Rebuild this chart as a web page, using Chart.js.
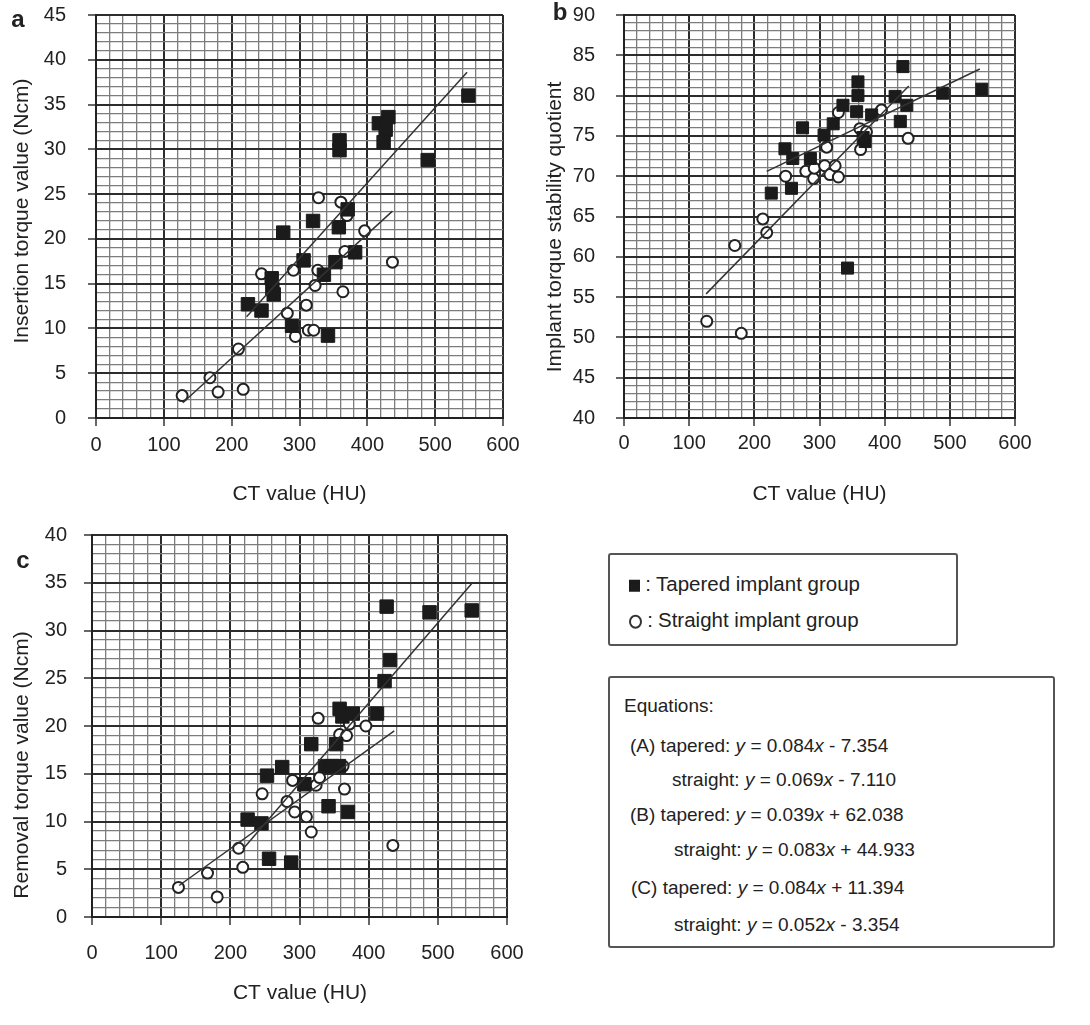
<!DOCTYPE html>
<html>
<head>
<meta charset="utf-8">
<script src="https://cdn.jsdelivr.net/npm/chart.js@4.4.0/dist/chart.umd.min.js"></script>
<style>
  body { margin: 0; background: #fff; font-family: 'Liberation Sans', Arial, sans-serif; color: #222; }
  #page { position: relative; width: 1090px; height: 1025px; overflow: hidden; }
  .panel { position: absolute; }
  .box { position: absolute; border: 2px solid #555; border-radius: 3px; box-sizing: border-box; }
  .row { position: absolute; white-space: nowrap; line-height: 1; transform: translateY(-50%); }
  .sq { display: inline-block; width: 11px; height: 12px; background: #1b1b1b; vertical-align: middle; }
  .ci { display: inline-block; width: 9px; height: 10px; border: 2px solid #333; border-radius: 50%; vertical-align: middle; }
  .colon { display: inline-block; width: 16px; text-align: center; }
</style>
</head>
<body>
<div id="page">
  <div class="panel" style="left:0;top:0;width:530px;height:510px"><canvas id="chartA"></canvas></div>
  <div class="panel" style="left:520px;top:0;width:570px;height:510px"><canvas id="chartB"></canvas></div>
  <div class="panel" style="left:0;top:510px;width:530px;height:515px"><canvas id="chartC"></canvas></div>

  <div class="box" style="left:608px;top:553px;width:350px;height:93px;font-size:20.5px">
    <div class="row" style="left:19px;top:29px"><span class="sq"></span><span class="colon">:</span>Tapered implant group</div>
    <div class="row" style="left:19px;top:65px"><span class="ci"></span><span class="colon">:</span>Straight implant group</div>
  </div>

  <div class="box" style="left:608px;top:676px;width:447px;height:272px;font-size:19px">
    <div class="row" style="left:14px;top:27px">Equations:</div>
    <div class="row" style="left:20px;top:67px">(A) tapered: <i>y</i> = 0.084<i>x</i> - 7.354</div>
    <div class="row" style="left:62px;top:101px">straight: <i>y</i> = 0.069<i>x</i> - 7.110</div>
    <div class="row" style="left:20px;top:136px">(B) tapered: <i>y</i> = 0.039<i>x</i> + 62.038</div>
    <div class="row" style="left:64px;top:171px">straight: <i>y</i> = 0.083<i>x</i> + 44.933</div>
    <div class="row" style="left:21px;top:209px">(C) tapered: <i>y</i> = 0.084<i>x</i> + 11.394</div>
    <div class="row" style="left:64px;top:246px">straight: <i>y</i> = 0.052<i>x</i> - 3.354</div>
  </div>
</div>

<script>
// axis ranges
const ctRange = [0, 600];
const insertionRange = [0, 45];
const isqRange = [40, 90];
const removalRange = [0, 40];

// (a) insertion torque, [CT value, Ncm]
const insertionTapered = [[549,36.0],[489,28.8],[417,32.9],[431,33.6],[427,32.2],[424,30.8],[359,31.0],[359,29.9],
  [371,23.3],[358,21.3],[320,22.0],[276,20.7],[382,18.5],[353,17.4],[306,17.6],[336,16.0],[259,15.6],[260,14.4],
  [262,13.8],[224,12.7],[244,12.0],[289,10.3],[342,9.2]];
const insertionStraight = [[127,2.5],[168,4.5],[180,2.9],[217,3.2],[210,7.7],[244,16.1],[282,11.7],[291,16.5],
  [294,9.1],[310,12.6],[313,9.8],[321,9.8],[323,14.8],[327,16.5],[328,24.6],[361,24.1],[364,14.1],[367,18.6],
  [370,22.6],[396,20.9],[437,17.4]];
const insertionTaperedFit = [[222,11.3],[547,38.6]];
const insertionStraightFit = [[128,1.7],[437,23.1]];

// (b) implant stability quotient
const isqTapered = [[428,83.6],[549,80.8],[489,80.3],[359,81.7],[359,80.0],[416,79.9],[434,78.8],[424,76.8],
  [336,78.8],[357,78.0],[380,77.6],[370,74.3],[367,74.8],[321,76.5],[307,75.1],[274,76.0],[247,73.4],[259,72.2],
  [286,72.2],[257,68.5],[226,67.9],[343,58.6]];
const isqStraight = [[127,52.0],[180,50.5],[170,61.4],[213,64.7],[219,63.0],[248,70.0],[279,70.6],[291,69.7],
  [292,71.0],[311,73.6],[308,71.3],[316,70.2],[324,71.3],[329,69.9],[329,77.9],[362,75.9],[363,73.3],[372,75.5],
  [395,78.2],[436,74.7]];
const isqTaperedFit = [[219,70.6],[546,83.3]];
const isqStraightFit = [[126,55.4],[437,81.2]];

// (c) removal torque
const removalTapered = [[426,32.5],[488,31.9],[549,32.1],[431,26.9],[423,24.7],[412,21.3],[358,21.8],[362,21.0],
  [377,21.3],[353,18.1],[317,18.1],[275,15.7],[253,14.8],[307,13.9],[337,15.8],[347,15.8],[357,15.8],[342,11.6],
  [370,11.0],[225,10.2],[245,9.8],[256,6.1],[288,5.7]];
const removalStraight = [[125,3.1],[167,4.6],[181,2.1],[212,7.2],[218,5.2],[246,12.9],[282,12.1],[290,14.3],
  [293,11.0],[310,10.5],[317,8.9],[324,13.8],[329,14.6],[327,20.8],[358,19.1],[368,19.0],[372,20.2],[365,13.4],
  [363,15.8],[396,20.0],[435,7.5]];
const removalTaperedFit = [[218,7.1],[550,35.0]];
const removalStraightFit = [[126,3.3],[437,19.5]];

Chart.defaults.font.family = "'Liberation Sans', Arial, sans-serif";
Chart.defaults.color = '#222';

const MAJOR = '#2c2c2c';
const MINOR = '#7c7c7c';

function pts(arr) {
  return arr.map(p => ({ x: p[0], y: p[1] }));
}

function stepList(min, max, step) {
  const out = [];
  for (let v = min; v <= max + 1e-9; v += step) out.push(Math.round(v * 1000) / 1000);
  return out;
}

// draws panel letters and axis titles at fixed spots
const panelText = {
  id: 'panelText',
  afterDraw(chart, args, opts) {
    const ctx = chart.ctx;
    opts.items.forEach(it => {
      ctx.save();
      ctx.font = it.font;
      ctx.fillStyle = '#222';
      ctx.textAlign = 'center';
      ctx.textBaseline = it.baseline || 'middle';
      ctx.translate(it.x, it.y);
      if (it.rotate) ctx.rotate(-Math.PI / 2);
      ctx.fillText(it.text, 0, 0);
      ctx.restore();
    });
  }
};

function gridScale(range, minor, major, fitSize, isX, pad) {
  const ticksList = stepList(range[0], range[1], minor);
  const isMajor = v => Math.abs(v / major - Math.round(v / major)) < 1e-6;
  return {
    type: 'linear',
    min: range[0],
    max: range[1],
    afterBuildTicks: s => { s.ticks = ticksList.map(v => ({ value: v })); },
    afterFit: s => {
      // fixed box sizes so the plot areas land where the reference has them
      if (isX) { s.height = fitSize; s.paddingLeft = 0; s.paddingRight = 0; }
      else { s.width = fitSize; s.paddingTop = 0; s.paddingBottom = 0; }
    },
    border: { color: '#222', width: 2 },
    grid: {
      color: c => (c.tick && isMajor(c.tick.value)) ? MAJOR : MINOR,
      lineWidth: c => (c.tick && isMajor(c.tick.value)) ? 2 : 1.3,
      tickColor: c => (c.tick && isMajor(c.tick.value)) ? '#333' : 'rgba(0,0,0,0)',
      tickLength: 8,
      tickWidth: 1.5
    },
    ticks: {
      autoSkip: false,
      maxRotation: 0,
      padding: pad,
      font: { size: 20 },
      callback: v => isMajor(v) ? String(v) : ''
    }
  };
}

function makePanel(id, p) {
  const trend = arr => ({
    data: pts(arr), showLine: true, pointRadius: 0, borderColor: '#333', borderWidth: 1.5, order: 0
  });
  new Chart(document.getElementById(id), {
    type: 'scatter',
    data: {
      datasets: [
        trend(p.taperedFit),
        trend(p.straightFit),
        { label: 'Tapered implant group', data: pts(p.tapered), pointStyle: 'rect', pointRadius: p.sq,
          backgroundColor: '#1b1b1b', borderColor: '#1b1b1b', borderWidth: 1, order: 1 },
        { label: 'Straight implant group', data: pts(p.straight), pointStyle: 'circle', pointRadius: 5.5,
          backgroundColor: '#fff', borderColor: '#222', borderWidth: 2, order: 2 }
      ]
    },
    options: {
      responsive: true,
      maintainAspectRatio: false,
      animation: false,
      layout: { padding: { top: p.top, right: p.right, bottom: 0, left: 0 } },
      scales: {
        x: gridScale(ctRange, 20, 100, p.xh, true, p.xpad),
        y: gridScale(p.yRange, 1, 5, p.yw, false, p.ypad)
      },
      plugins: {
        legend: { display: false },
        tooltip: { enabled: false },
        panelText: { items: p.texts }
      }
    },
    plugins: [panelText]
  });
}

window.onload = function () {
  const titleFont = "21px 'Liberation Sans', Arial, sans-serif";
  const letterFont = "bold 24px 'Liberation Sans', Arial, sans-serif";

  makePanel('chartA', {
    tapered: insertionTapered, straight: insertionStraight,
    taperedFit: insertionTaperedFit, straightFit: insertionStraightFit,
    yRange: insertionRange, sq: 9.5,
    top: 15, right: 27, yw: 96, xh: 92, xpad: 7, ypad: 22,
    texts: [
      { text: 'a', x: 18, y: 27, font: letterFont, baseline: 'alphabetic' },
      { text: 'Insertion torque value (Ncm)', x: 22, y: 211, rotate: true, font: titleFont },
      { text: 'CT value (HU)', x: 299.5, y: 494, font: titleFont }
    ]
  });

  makePanel('chartB', {
    tapered: isqTapered, straight: isqStraight,
    taperedFit: isqTaperedFit, straightFit: isqStraightFit,
    yRange: isqRange, sq: 8.5,
    top: 15, right: 75, yw: 104, xh: 92, xpad: 5, ypad: 21,
    texts: [
      { text: 'b', x: 40, y: 20, font: letterFont, baseline: 'alphabetic' },
      { text: 'Implant torque stability quotient', x: 35, y: 227, rotate: true, font: titleFont },
      { text: 'CT value (HU)', x: 299.5, y: 494, font: titleFont }
    ]
  });

  makePanel('chartC', {
    tapered: removalTapered, straight: removalStraight,
    taperedFit: removalTaperedFit, straightFit: removalStraightFit,
    yRange: removalRange, sq: 9.5,
    top: 25, right: 23, yw: 92, xh: 108, xpad: 16, ypad: 17,
    texts: [
      { text: 'c', x: 23, y: 58, font: letterFont, baseline: 'alphabetic' },
      { text: 'Removal torque value (Ncm)', x: 22, y: 255, rotate: true, font: titleFont },
      { text: 'CT value (HU)', x: 300, y: 483, font: titleFont }
    ]
  });
};
</script>
</body>
</html>
